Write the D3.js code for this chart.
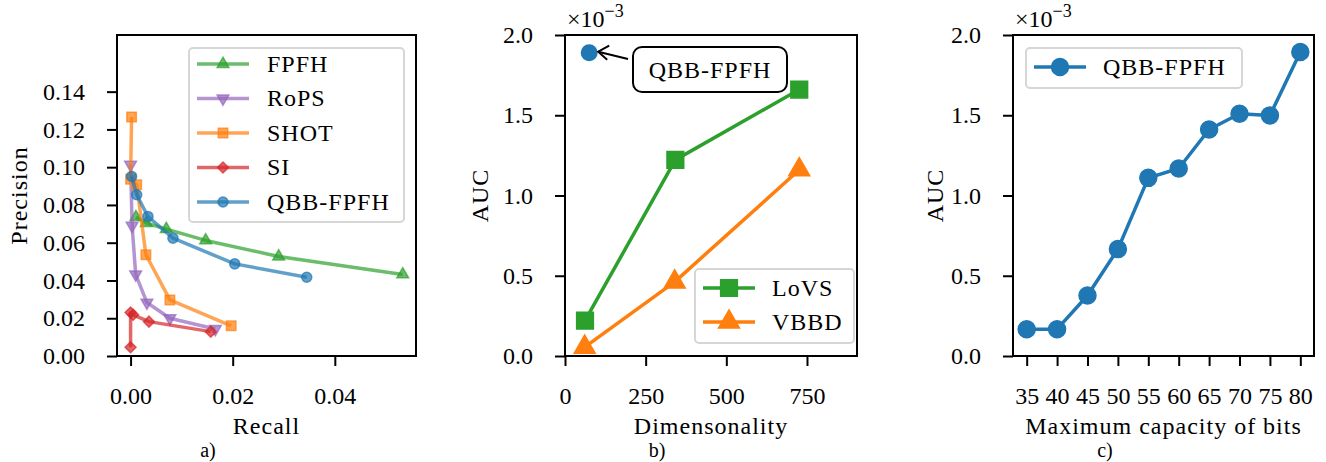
<!DOCTYPE html>
<meta charset="utf-8">
<title>descriptor comparison</title>
<script src="https://d3js.org/d3.v7.min.js"></script>
<style>
body { margin: 0; background: #fff; }
text { font-family: "Liberation Serif", "Times New Roman", serif; fill: #000; }
text.word { letter-spacing: 1px; }
</style>
<body>
<script>

// ---- panel a: precision / recall ----
var prNames = ["FPFH", "RoPS", "SHOT", "SI", "QBB-FPFH"];
var prColors = ["#2ca02c", "#9467bd", "#ff7f0e", "#d62728", "#1f77b4"];
var prSymbols = ["triangle", "triangleDown", "square", "diamond", "circle"];
var fpfhRecall = [0.00104, 0.0031, 0.0070, 0.0147, 0.0290, 0.0533];
var fpfhPrec   = [0.0735, 0.0704, 0.0672, 0.0612, 0.0527, 0.0432];
var ropsRecall = [0.0000, 0.0003, 0.0010, 0.0032, 0.0077, 0.0166];
var ropsPrec   = [0.1013, 0.0690, 0.0432, 0.0283, 0.0200, 0.0143];
var shotRecall = [0.0002, 0.0000, 0.0012, 0.0030, 0.0077, 0.0197];
var shotPrec   = [0.1266, 0.0936, 0.0907, 0.0536, 0.0297, 0.0160];
var siRecall   = [0.0000, 0.0000, 0.0005, 0.0036, 0.0157];
var siPrec     = [0.0046, 0.0230, 0.0218, 0.0182, 0.0129];
var qbbRecall  = [0.0002, 0.0012, 0.0034, 0.0083, 0.0204, 0.0345];
var qbbPrec    = [0.0951, 0.0854, 0.0739, 0.0624, 0.0488, 0.0417];
var prRecallTicks = [0, 0.02, 0.04];
var prPrecTicks = [0, 0.02, 0.04, 0.06, 0.08, 0.10, 0.12, 0.14];

// ---- panel b: AUC vs dimensionality ----
var lovsDim = [62, 342, 726];
var lovsAuc = [0.00022, 0.001222, 0.001660];
var vbbdDim = [61, 340, 726];
var vbbdAuc = [0.000055, 0.000462, 0.001160];
var qbbDim = 75;
var qbbAuc = 0.00189;
var dimTicks = [0, 250, 500, 750];
var aucTicks = [0, 0.0005, 0.001, 0.0015, 0.002];

// ---- panel c: AUC vs capacity ----
var bits = [35, 40, 45, 50, 55, 60, 65, 70, 75, 80];
var bitsAuc = [0.000167, 0.000167, 0.000377, 0.000666, 0.00111, 0.001168, 0.001411, 0.001509, 0.001499, 0.001894];

var svg = d3.select("body").append("svg")
    .attr("width", 1326)
    .attr("height", 462);

var boxA = {x0: 117, x1: 416, y0: 35, y1: 356};
var boxB = {x0: 565, x1: 857, y0: 35, y1: 356};
var boxC = {x0: 1013, x1: 1314, y0: 35, y1: 356};

var xA = d3.scaleLinear().domain([-0.00266, 0.0559]).range([boxA.x0, boxA.x1]);
var yA = d3.scaleLinear().domain([0, 0.17]).range([boxA.y1, boxA.y0]);
var xB = d3.scaleLinear().domain([0, 905]).range([boxB.x0, boxB.x1]);
var yB = d3.scaleLinear().domain([0, 0.002]).range([boxB.y1, boxB.y0]);
var xC = d3.scaleLinear().domain([32.75, 82.25]).range([boxC.x0, boxC.x1]);
var yC = d3.scaleLinear().domain([0, 0.002]).range([boxC.y1, boxC.y0]);

function symbolPath(kind, size) {
  if (kind == "triangle" || kind == "triangleDown") return d3.symbol().type(d3.symbolTriangle).size(size)();
  if (kind == "square" || kind == "diamond") return d3.symbol().type(d3.symbolSquare).size(size)();
  return d3.symbol().type(d3.symbolCircle).size(size)();
}
function symbolRotate(kind) {
  if (kind == "triangleDown") return " rotate(180)";
  if (kind == "diamond") return " rotate(45)";
  return "";
}

function drawAxes(box, x, y, xTicks, yTicks, xFmt, yFmt) {
  var g = svg.append("g");
  g.append("g")
    .attr("transform", "translate(0," + box.y1 + ")")
    .call(d3.axisBottom(x).tickValues(xTicks).tickFormat(xFmt).tickSize(10).tickPadding(21))
    .call(function(a) { a.select(".domain").remove(); });
  g.append("g")
    .attr("transform", "translate(" + box.x0 + ",0)")
    .call(d3.axisLeft(y).tickValues(yTicks).tickFormat(yFmt).tickSize(10).tickPadding(22))
    .call(function(a) { a.select(".domain").remove(); });
  g.selectAll(".tick line").attr("stroke", "#000").attr("stroke-width", 2);
  g.selectAll(".tick text").attr("font-family", "Liberation Serif").attr("font-size", 24);
  return g;
}

function drawFrame(box) {
  svg.append("rect")
    .attr("x", box.x0).attr("y", box.y0)
    .attr("width", box.x1 - box.x0).attr("height", box.y1 - box.y0)
    .attr("fill", "none").attr("stroke", "#000").attr("stroke-width", 2);
}

function drawSeries(xs, ys, x, y, color, kind, size, alpha, lw) {
  var pts = xs.map(function(v, i) { return [x(v), y(ys[i])]; });
  var g = svg.append("g");
  g.append("path")
    .attr("d", d3.line()(pts))
    .attr("fill", "none")
    .attr("stroke", color)
    .attr("stroke-width", lw)
    .attr("stroke-opacity", alpha)
    .attr("stroke-linejoin", "round");
  g.selectAll("path.mk").data(pts).enter().append("path")
    .attr("class", "mk")
    .attr("d", symbolPath(kind, size))
    .attr("transform", function(d) { return "translate(" + d[0] + "," + d[1] + ")" + symbolRotate(kind); })
    .attr("fill", color)
    .attr("fill-opacity", alpha)
    .attr("stroke", color)
    .attr("stroke-opacity", alpha)
    .attr("stroke-width", 1.5);
}

function drawLegend(x0, y0, w, h, items, rowH, lw, alpha) {
  var g = svg.append("g");
  g.append("rect")
    .attr("x", x0).attr("y", y0).attr("width", w).attr("height", h)
    .attr("rx", 4)
    .attr("fill", "#fff").attr("fill-opacity", 0.8)
    .attr("stroke", "#d6d6d6").attr("stroke-width", 2);
  items.forEach(function(it, i) {
    var cy = y0 + it.offset + i * rowH;
    g.append("line")
      .attr("x1", x0 + 8).attr("x2", x0 + 60)
      .attr("y1", cy).attr("y2", cy)
      .attr("stroke", it.color).attr("stroke-width", lw).attr("stroke-opacity", alpha);
    g.append("path")
      .attr("d", symbolPath(it.kind, it.size))
      .attr("transform", "translate(" + (x0 + 34) + "," + cy + ")" + symbolRotate(it.kind))
      .attr("fill", it.color).attr("fill-opacity", alpha)
      .attr("stroke", it.color).attr("stroke-opacity", alpha).attr("stroke-width", 1.5);
    g.append("text")
      .attr("class", "word")
      .attr("x", x0 + it.textDx).attr("y", cy)
      .attr("dy", "0.33em")
      .attr("font-size", 24)
      .text(it.name);
  });
}

function sciLabel(box) {
  var t = svg.append("text")
    .attr("x", box.x0 + 2).attr("y", 27)
    .attr("font-size", 24);
  t.append("tspan").text("×10");
  t.append("tspan").attr("dy", -10).attr("font-size", 18).text("−3");
}

function axisLabels(box, yx, yText, xText, tag, tagX) {
  svg.append("text").attr("class", "word")
    .attr("transform", "translate(" + yx + "," + ((box.y0 + box.y1) / 2) + ") rotate(-90)")
    .attr("text-anchor", "middle").attr("font-size", 24).text(yText);
  svg.append("text").attr("class", "word")
    .attr("x", (box.x0 + box.x1) / 2).attr("y", 434)
    .attr("text-anchor", "middle").attr("font-size", 24).text(xText);
  svg.append("text")
    .attr("x", tagX).attr("y", 457)
    .attr("text-anchor", "middle").attr("font-size", 20).text(tag);
}

// ---------- panel a ----------
drawAxes(boxA, xA, yA, prRecallTicks, prPrecTicks, d3.format(".2f"), d3.format(".2f"));
var prX = [fpfhRecall, ropsRecall, shotRecall, siRecall, qbbRecall];
var prY = [fpfhPrec, ropsPrec, shotPrec, siPrec, qbbPrec];
var prSizes = [60, 60, 90, 60, 80];
prNames.forEach(function(n, i) {
  drawSeries(prX[i], prY[i], xA, yA, prColors[i], prSymbols[i], prSizes[i], 0.7, 3.5);
});
drawFrame(boxA);
drawLegend(189, 48, 215, 174, prNames.map(function(n, i) {
  return {name: n, color: prColors[i], kind: prSymbols[i], size: prSizes[i], offset: 16, textDx: 78};
}), 34.5, 3.5, 0.7);
axisLabels(boxA, 27, "Precision", "Recall", "a)", 208);

// ---------- panel b ----------
var aucFmt = function(d) { return (d * 1000).toFixed(1); };
drawAxes(boxB, xB, yB, dimTicks, aucTicks, d3.format("d"), aucFmt);
drawSeries(lovsDim, lovsAuc, xB, yB, "#2ca02c", "square", 280, 1, 3.5);
drawSeries(vbbdDim, vbbdAuc, xB, yB, "#ff7f0e", "triangle", 190, 1, 3.5);
svg.append("circle")
  .attr("cx", xB(qbbDim)).attr("cy", yB(qbbAuc)).attr("r", 8.5)
  .attr("fill", "#1f77b4");
drawFrame(boxB);
sciLabel(boxB);

// annotation
var ann = svg.append("g");
var tipX = xB(qbbDim) + 9, tipY = yB(qbbAuc) - 1;
ann.append("line")
  .attr("x1", 628).attr("y1", 59)
  .attr("x2", tipX).attr("y2", tipY)
  .attr("stroke", "#000").attr("stroke-width", 2);
ann.append("path")
  .attr("d", "M" + (tipX + 11) + "," + (tipY - 6) + " L" + tipX + "," + tipY + " L" + (tipX + 9) + "," + (tipY + 8))
  .attr("fill", "none").attr("stroke", "#000").attr("stroke-width", 2);
ann.append("rect")
  .attr("x", 633).attr("y", 47).attr("width", 154).attr("height", 45)
  .attr("rx", 9)
  .attr("fill", "#fff").attr("stroke", "#000").attr("stroke-width", 2);
ann.append("text").attr("class", "word")
  .attr("x", 710).attr("y", 70).attr("dy", "0.35em")
  .attr("text-anchor", "middle").attr("font-size", 24).text("QBB-FPFH");

drawLegend(695, 269, 159, 74, [
  {name: "LoVS", color: "#2ca02c", kind: "square", size: 280, offset: 19, textDx: 77},
  {name: "VBBD", color: "#ff7f0e", kind: "triangle", size: 190, offset: 19, textDx: 77}
], 34, 3.5, 1);
axisLabels(boxB, 488, "AUC", "Dimensonality", "b)", 657);

// ---------- panel c ----------
drawAxes(boxC, xC, yC, bits, aucTicks, d3.format("d"), aucFmt);
drawSeries(bits, bitsAuc, xC, yC, "#1f77b4", "circle", 227, 1, 3.5);
drawFrame(boxC);
sciLabel(boxC);
drawLegend(1026, 48, 216, 40, [
  {name: "QBB-FPFH", color: "#1f77b4", kind: "circle", size: 227, offset: 19, textDx: 77}
], 34, 3.5, 1);
axisLabels(boxC, 943, "AUC", "Maximum capacity of bits", "c)", 1105);

</script>
</body>
</html>
